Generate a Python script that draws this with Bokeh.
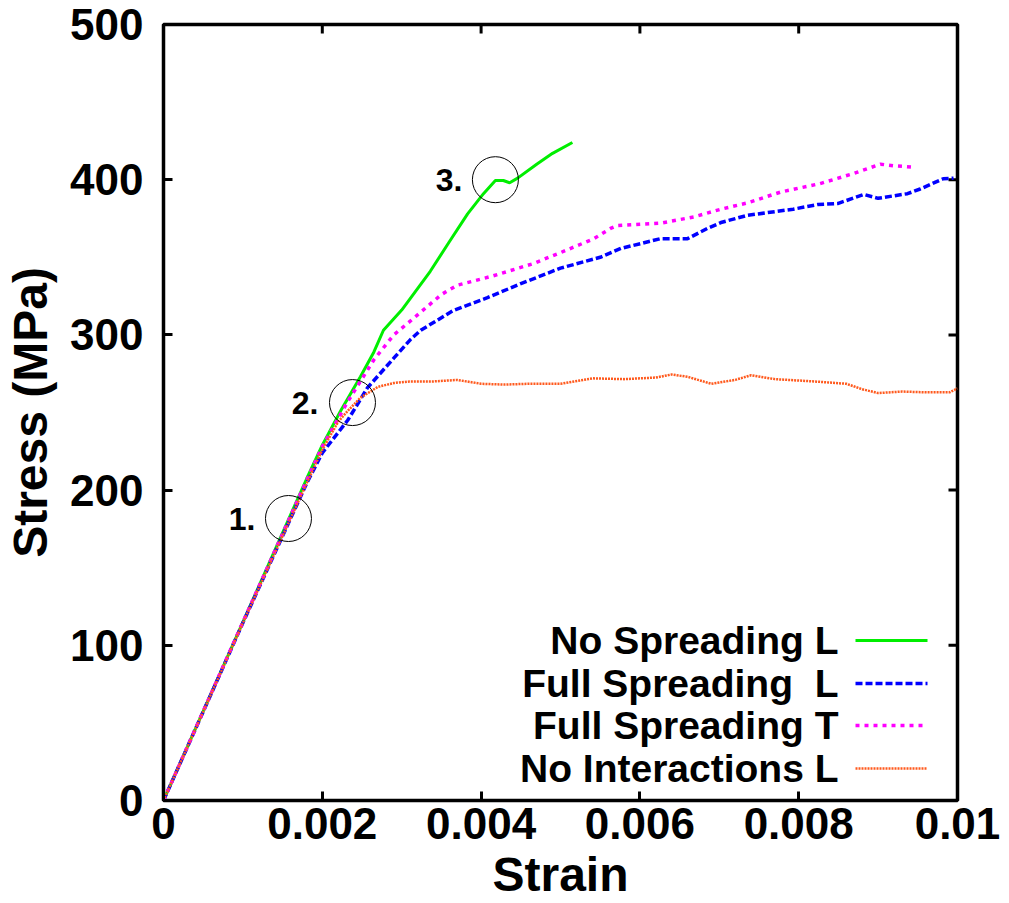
from bokeh.plotting import figure
from bokeh.models import Range1d, FixedTicker
from bokeh.core.properties import value
from bokeh.embed import file_html
from bokeh.resources import INLINE

# ---------------- data ----------------
ns_strain = [0, 0.0010, 0.0018, 0.0020, 0.00223, 0.00248, 0.00265, 0.00277, 0.0030, 0.00336,
             0.0036, 0.00383, 0.00403, 0.00418, 0.00428, 0.00436, 0.00446, 0.0047, 0.0049, 0.00515]
ns_stress = [0, 115, 207, 229, 251, 273, 289, 303, 316, 341,
             360, 378, 391, 399.5, 399.5, 398, 401, 410, 417, 424]

fsl_strain = [0, 0.0010, 0.0018, 0.0020, 0.00232, 0.00257, 0.0029, 0.00311, 0.00324, 0.00365,
              0.00408, 0.0045, 0.0050, 0.0055, 0.00576, 0.00626, 0.0066, 0.00685, 0.00702, 0.00735,
              0.00793, 0.00824, 0.00849, 0.00882, 0.0090, 0.00937, 0.00953, 0.00982, 0.00995]
fsl_stress = [0, 114.5, 204, 224, 245, 266, 285, 297, 303, 315.7,
              324, 333, 343, 350, 355.7, 362, 362, 368.6, 372.4, 377,
              381, 384, 384.6, 390.5, 388, 391, 394, 400.6, 401]

fst_strain = [0, 0.0010, 0.0018, 0.0020, 0.00232, 0.00265, 0.0029, 0.00311, 0.0035, 0.0037,
              0.00415, 0.00466, 0.0050, 0.00542, 0.00563, 0.00572, 0.00626, 0.00668, 0.00702, 0.00735,
              0.00777, 0.00827, 0.00869, 0.00903, 0.00919, 0.00947]
fst_stress = [0, 115, 206, 228, 257, 284, 300, 309, 326, 332,
              338, 346, 353, 362, 368.6, 370.5, 372, 376, 381, 385,
              392, 397.5, 404, 410, 409, 408]

ni_strain = [0, 0.0010, 0.0018, 0.0020, 0.0022, 0.00232, 0.00248, 0.0027, 0.0029, 0.0031,
             0.0034, 0.0037, 0.0040, 0.0043, 0.0046, 0.0050, 0.0054, 0.0058, 0.0062, 0.0064,
             0.0066, 0.0069, 0.0072, 0.0074, 0.0077, 0.0082, 0.0086, 0.0088, 0.0090, 0.0093,
             0.0096, 0.0099, 0.0100]
ni_stress = [0, 114.5, 204, 226, 244, 251, 259.5, 266.5, 269, 270,
             270, 271, 268.5, 268, 268.5, 268.5, 272, 271.5, 272.5, 274.5,
             273, 268.5, 271, 274, 271.5, 270, 268.5, 265, 262.5, 263.5,
             263, 263, 265.5]

series_names = ["No Spreading L", "Full Spreading\u00a0\u00a0L", "Full Spreading T", "No Interactions L"]

marker_strain = [0.001574, 0.00238, 0.00418]
marker_stress = [181.7, 256.4, 400.0]
marker_labels = ["1.", "2.", "3."]

x_ticks = [0, 0.002, 0.004, 0.006, 0.008, 0.01]
x_tick_labels = ["0", "0.002", "0.004", "0.006", "0.008", "0.01"]
y_ticks = [0, 100, 200, 300, 400, 500]
y_tick_labels = ["0", "100", "200", "300", "400", "500"]

# ---------------- layout ----------------
W, H = 1009, 903
LEFT, RIGHT, TOP, BOTTOM = 163, 957, 24, 800
XMIN, XMAX, YMIN, YMAX = 0.0, 0.01, 0.0, 500.0
TICK_LEN = 9
FONT_NAME = "Liberation Sans"
FONT = value(FONT_NAME)


def px2x(px):
    return XMIN + (px - LEFT) / (RIGHT - LEFT) * (XMAX - XMIN)


def px2y(py):
    return YMIN + (BOTTOM - py) / (BOTTOM - TOP) * (YMAX - YMIN)


def x2px(x):
    return LEFT + (x - XMIN) / (XMAX - XMIN) * (RIGHT - LEFT)


p = figure(output_backend="svg", toolbar_location=None,
           x_range=Range1d(XMIN, XMAX), y_range=Range1d(YMIN, YMAX),
           frame_width=RIGHT - LEFT, frame_height=BOTTOM - TOP,
           min_border_left=LEFT, min_border_right=W - RIGHT,
           min_border_top=TOP, min_border_bottom=H - BOTTOM,
           x_axis_label="Strain", y_axis_label="Stress (MPa)")
p.grid.visible = False
p.background_fill_color = "white"
p.border_fill_color = "white"
p.outline_line_color = "black"
p.outline_line_width = 3.5

for ax, ticks, labels in ((p.xaxis[0], x_ticks, x_tick_labels), (p.yaxis[0], y_ticks, y_tick_labels)):
    ax.ticker = FixedTicker(ticks=ticks)
    ax.major_label_overrides = {t: l for t, l in zip(ticks, labels)}
    ax.axis_line_color = None
    ax.major_tick_in = TICK_LEN
    ax.major_tick_out = 0
    ax.major_tick_line_width = 3
    ax.minor_tick_line_color = None
    ax.major_label_text_font = FONT_NAME
    ax.major_label_text_font_style = "bold"
    ax.major_label_text_font_size = "44px"
    ax.major_label_text_color = "black"
    ax.axis_label_text_font = FONT_NAME
    ax.axis_label_text_font_style = "bold"
    ax.axis_label_text_font_size = "48px"
    ax.axis_label_text_color = "black"

p.xaxis[0].major_label_standoff = 7
p.xaxis[0].axis_label_standoff = 6
p.yaxis[0].major_label_standoff = 20
p.yaxis[0].axis_label_standoff = 10
p.yaxis[0].major_label_orientation = "horizontal"

# mirrored ticks on top and right edges (drawn from the tick lists)
p.segment(x0=x_ticks, y0=[YMAX] * len(x_ticks), x1=x_ticks, y1=[px2y(TOP + TICK_LEN)] * len(x_ticks),
          line_color="black", line_width=3)
p.segment(x0=[XMAX] * len(y_ticks), y0=y_ticks, x1=[px2x(RIGHT - TICK_LEN)] * len(y_ticks), y1=y_ticks,
          line_color="black", line_width=3)

# ---------------- curves ----------------
styles = [
    dict(color="#00ee00", width=3, dash="solid"),
    dict(color="#0000ff", width=3.5, dash="7 3"),
    dict(color="#ff00ff", width=3.5, dash="4 5"),
    dict(color="#ff5a1e", width=2.5, dash="2 1"),
]
data = [(ns_strain, ns_stress), (fsl_strain, fsl_stress), (fst_strain, fst_stress), (ni_strain, ni_stress)]

for (xs, ys), st in zip(data, styles):
    p.line(xs, ys, line_color=st["color"], line_width=st["width"], line_dash=st["dash"])

# circles and labels
p.scatter(marker_strain, marker_stress, marker="circle", size=46,
          fill_color=None, line_color="black", line_width=1)
label_dx = [-33, -34, -33]
p.text(x=[px2x(x2px(s) + d) for s, d in zip(marker_strain, label_dx)],
       y=marker_stress, text=marker_labels,
       text_align="right", text_baseline="middle", text_font=FONT,
       text_font_style="bold", text_font_size="32px", text_color="black")

# ---------------- legend (gnuplot style: text then sample) ----------------
row_py = [640, 683, 725, 768]
text_right_px = 838
sample_px = (855, 927)
p.text(x=[px2x(text_right_px)] * 4, y=[px2y(r) for r in row_py], text=series_names,
       text_align="right", text_baseline="middle", text_font=FONT,
       text_font_style="bold", text_font_size="39px", text_color="black")
for r, st in zip(row_py, styles):
    p.line([px2x(sample_px[0]), px2x(sample_px[1])], [px2y(r), px2y(r)],
           line_color=st["color"], line_width=st["width"], line_dash=st["dash"])

open("out.html", "w").write(file_html(p, INLINE))
